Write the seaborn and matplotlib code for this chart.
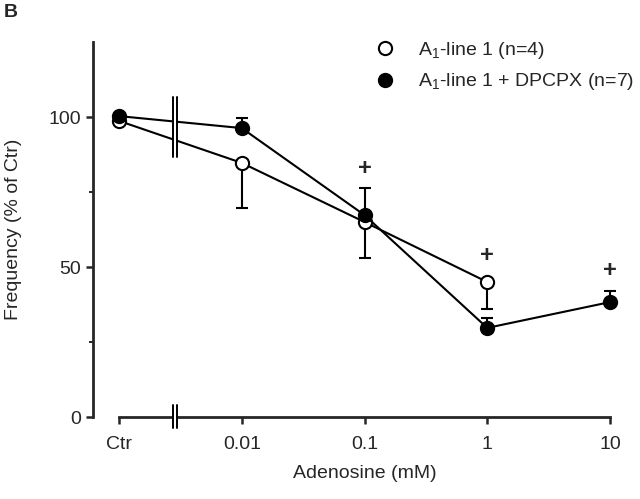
import numpy as np
import seaborn as sns
import matplotlib.pyplot as plt
import pandas as pd
from matplotlib.lines import Line2D
from matplotlib.patches import Rectangle

# x positions: "Ctr" is placed one decade below 0.01
conc = [0.001, 0.01, 0.1, 1, 10]
tick_labels = ['Ctr', '0.01', '0.1', '1', '10']

open_conc = [0.001, 0.01, 0.1, 1]
open_freq = [98.7, 84.7, 65.0, 45.0]
open_err = [0, 15.0, 12.0, 9.0]

fill_conc = [0.001, 0.01, 0.1, 1, 10]
fill_freq = [100.3, 96.3, 67.3, 29.7, 38.3]
fill_err = [0, 3.4, 9.0, 3.4, 3.8]

plus_conc = [0.1, 1, 10]
plus_y = [82.7, 54.0, 48.7]

sns.set_style("ticks")
plt.rcParams['font.family'] = ['Liberation Sans', 'DejaVu Sans']
plt.rcParams['mathtext.fontset'] = 'custom'
plt.rcParams['mathtext.rm'] = 'Liberation Sans'

fig = plt.figure(figsize=(6.4, 4.99), dpi=100)
ax = fig.add_axes([119 / 640, 1 - 417 / 499, (610 - 119) / 640, (417 - 42) / 499])

df_open = pd.DataFrame({'conc': open_conc, 'freq': open_freq})
df_fill = pd.DataFrame({'conc': fill_conc, 'freq': fill_freq})

lw = 1.5
# error bars (one-sided: open down, filled up)
ax.errorbar(open_conc, open_freq, yerr=[open_err, [0] * len(open_err)], fmt='none',
            ecolor='black', elinewidth=lw, capsize=4, capthick=lw, zorder=3, clip_on=False)
ax.errorbar(fill_conc, fill_freq, yerr=[[0] * len(fill_err), fill_err], fmt='none',
            ecolor='black', elinewidth=lw, capsize=4, capthick=lw, zorder=3, clip_on=False)

sns.lineplot(data=df_open, x='conc', y='freq', ax=ax, color='black', lw=lw, marker='o',
             markersize=9.5, markerfacecolor='white', markeredgecolor='black',
             markeredgewidth=lw, zorder=5, clip_on=False)
sns.lineplot(data=df_fill, x='conc', y='freq', ax=ax, color='black', lw=lw, marker='o',
             markersize=9.5, markerfacecolor='black', markeredgecolor='black',
             markeredgewidth=lw, zorder=6, clip_on=False)

for xc, yc in zip(plus_conc, plus_y):
    ax.text(xc, yc, '+', ha='center', va='center', fontsize=17, fontweight='bold')

ax.set_xscale('log')
ax.set_xlim(0.001, 10)
ax.set_ylim(0, 125)
ax.set_xticks(conc)
ax.set_xticklabels(tick_labels)
ax.minorticks_off()
ax.set_yticks([0, 50, 100])
ax.set_yticks([25, 75], minor=True)
ax.tick_params(axis='both', which='major', labelsize=14, width=1.8, length=5, direction='out')
ax.tick_params(axis='y', which='minor', width=1.4, length=3, direction='out')
ax.tick_params(axis='x', pad=9)

sns.despine(ax=ax)
ax.spines['left'].set_position(('outward', 19))
for s in ['left', 'bottom']:
    ax.spines[s].set_linewidth(2.0)

ax.set_xlabel('Adenosine (mM)', fontsize=14, labelpad=8)
ax.set_ylabel('Frequency (% of Ctr)', fontsize=14, labelpad=19)

# axis breaks between Ctr and 0.01
bx0, bx1 = 10 ** -2.56, 10 ** -2.527
for y0, y1, z in [(86.7, 106.7, 7), (-3.7, 4.0, 7)]:
    ax.add_patch(Rectangle((bx0, y0), bx1 - bx0, y1 - y0, facecolor='white',
                           edgecolor='none', zorder=z, clip_on=False))
    for bx in (bx0, bx1):
        ax.plot([bx, bx], [y0, y1], color='black', lw=1.4, zorder=z + 1, clip_on=False)

handles = [
    Line2D([], [], linestyle='none', marker='o', markersize=9.5, markerfacecolor='white',
           markeredgecolor='black', markeredgewidth=lw),
    Line2D([], [], linestyle='none', marker='o', markersize=9.5, markerfacecolor='black',
           markeredgecolor='black', markeredgewidth=lw),
]
labels = [r'A$_1$-line 1 (n=4)', r'A$_1$-line 1 + DPCPX (n=7)']
ax.legend(handles, labels, loc='upper left', bbox_to_anchor=(364 / 640, 1 - 30 / 499),
          bbox_transform=fig.transFigure, frameon=False, fontsize=14,
          handletextpad=1.1, labelspacing=0.55, borderpad=0, handlelength=1.2)

fig.text(4 / 640, 1 - 4 / 499, 'B', fontsize=14, fontweight='bold', ha='left', va='top')

fig.savefig('out.png', dpi=100)
